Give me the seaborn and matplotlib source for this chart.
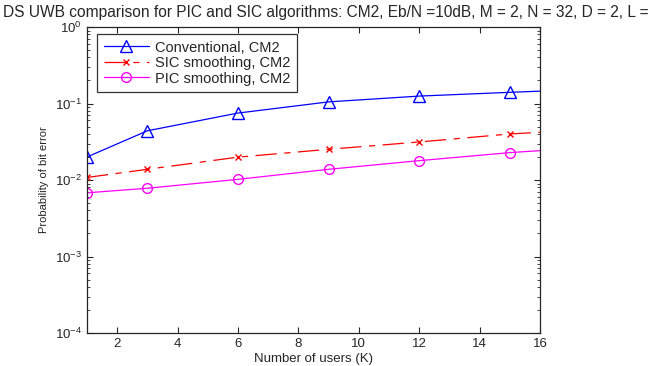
import numpy as np
import pandas as pd
import matplotlib
matplotlib.use("Agg")
import matplotlib.pyplot as plt
import seaborn as sns

# data (last point sits on the right axis edge)
users = [1, 3, 6, 9, 12, 15, 16]
conventional = [0.020, 0.044, 0.075, 0.105, 0.125, 0.140, 0.145]
sic_smoothing = [0.0108, 0.0138, 0.0199, 0.0252, 0.0314, 0.040, 0.042]
pic_smoothing = [0.0068, 0.0078, 0.0102, 0.0138, 0.0179, 0.0228, 0.0242]

labels = ["Conventional, CM2", "SIC smoothing, CM2", "PIC smoothing, CM2"]
series = [conventional, sic_smoothing, pic_smoothing]

sns.set_style("ticks")
plt.rcParams["font.family"] = ["Liberation Sans", "DejaVu Sans"]
plt.rcParams["mathtext.fontset"] = "custom"
plt.rcParams["mathtext.rm"] = "Liberation Sans"
plt.rcParams["mathtext.it"] = "Liberation Sans:italic"

fig = plt.figure(figsize=(6.57, 3.66), dpi=100)
ax = fig.add_axes([87 / 657, 33 / 366, 453 / 657, 306 / 366])

styles = [
    dict(color="blue", linestyle="-", marker="^", markersize=8,
         markerfacecolor="none", markeredgecolor="blue", markeredgewidth=1.0),
    dict(color="red", linestyle=(0, (17, 6, 5, 6)), marker="x", markersize=4,
         markeredgecolor="red", markeredgewidth=1.0),
    dict(color="magenta", linestyle="-", marker="o", markersize=7,
         markerfacecolor="none", markeredgecolor="magenta", markeredgewidth=1.0),
]

for lab, vals, st in zip(labels, series, styles):
    df = pd.DataFrame({"K": users, "Pb": vals})
    sns.lineplot(data=df, x="K", y="Pb", ax=ax, label=lab, linewidth=0.9,
                 markevery=list(range(len(users) - 1)), **st)

ax.set_yscale("log")
ax.set_xlim(1, 16)
ax.set_ylim(1e-4, 1)
ax.set_xticks([2, 4, 6, 8, 10, 12, 14, 16])
ax.tick_params(which="both", direction="in", top=True, right=True,
               labelsize=9.5, width=0.8)
ax.tick_params(which="major", length=4)
ax.tick_params(which="minor", length=2.5, width=0.6)
for sp in ax.spines.values():
    sp.set_linewidth(0.9)

ax.set_xlabel("Number of users (K)", fontsize=9.5, labelpad=2)
ax.set_ylabel("Probability of bit error", fontsize=8, labelpad=4)

leg = ax.legend(loc="upper left", bbox_to_anchor=(0.022, 0.977), fontsize=10.5,
                frameon=True, fancybox=False, edgecolor="black",
                handlelength=3.1, handletextpad=0.4, borderpad=0.45,
                labelspacing=0.1, borderaxespad=0)
leg.get_frame().set_linewidth(0.9)

# the reference title runs off the right edge after "L ="
fig.text(0.005, 0.965,
         "DS UWB comparison for PIC and SIC algorithms: CM2, Eb/N =10dB, M = 2, N = 32, D = 2, L =",
         fontsize=11.2, ha="left", va="center")

fig.savefig("out.png", dpi=100)
